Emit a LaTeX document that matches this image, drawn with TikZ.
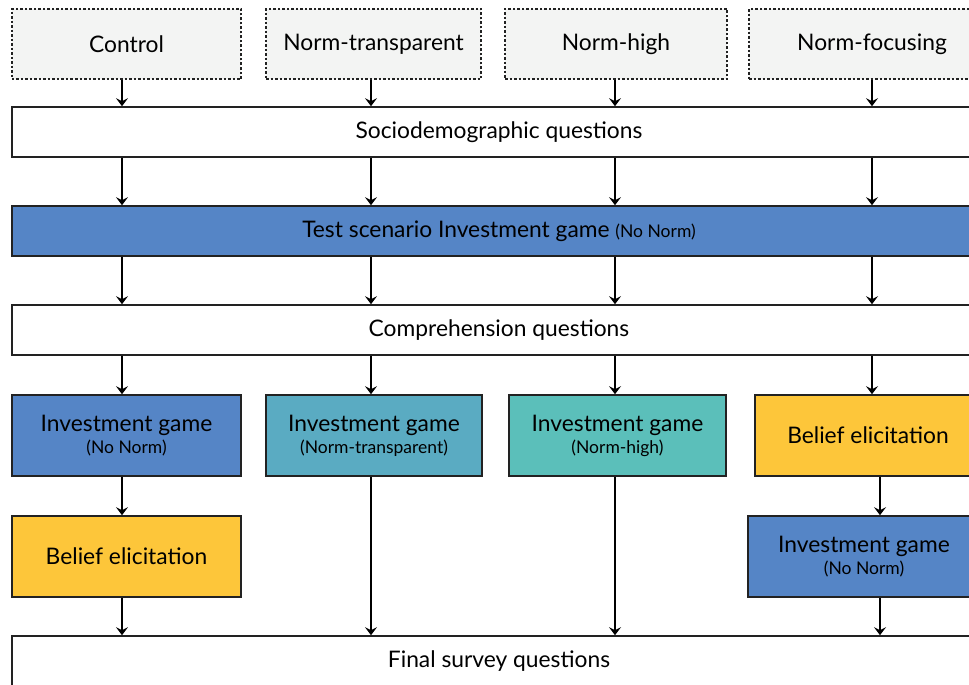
\documentclass[tikz,border=0pt]{standalone}
\usepackage{fontspec}
\setmainfont{Lato}
\usetikzlibrary{arrows.meta}
\definecolor{igblue}{HTML}{5585C6}
\definecolor{igtrans}{HTML}{5AABC2}
\definecolor{ighigh}{HTML}{5BBFBA}
\definecolor{beliefy}{HTML}{FDC63A}
\definecolor{topgray}{HTML}{F3F4F3}
\definecolor{edge}{HTML}{222222}
\newcommand{\bigt}{\fontsize{22.8bp}{26bp}\selectfont}
\newcommand{\smallt}{\fontsize{17.5bp}{19bp}\selectfont}
\tikzset{
  box/.style={draw=edge, line width=1.6bp, inner sep=0pt, align=center, font=\bigt},
  topbox/.style={box, fill=topgray, dash pattern=on 2.5bp off 2bp, line width=1.3bp, minimum height=70bp},
  widebox/.style={box, fill=white, minimum width=974bp, minimum height=50bp},
  cellbox/.style={box, minimum height=81bp},
  arr/.style={draw=black, line width=1.4bp, -{Stealth[length=8bp,width=12bp,inset=3bp]}}
}
\begin{document}
\begin{tikzpicture}[x=1bp,y=-1bp]
\path[use as bounding box] (0,0) rectangle (969,685);
\clip (0,0) rectangle (969,685);
\fill[white] (0,0) rectangle (969,685);
% column coordinates
\coordinate (c1) at (122,0);
\coordinate (c2) at (371,0);
\coordinate (c3) at (615,0);
\coordinate (c4) at (872,0);
\coordinate (c4b) at (880,0);
% top row
\node[topbox, minimum width=229bp] (ctrl) at (126.5,44) {Control};
\node[topbox, minimum width=215bp] (ntr) at (373.5,44) {Norm-transparent};
\node[topbox, minimum width=222bp] (nhi) at (616,44) {Norm-high};
\node[topbox, minimum width=246bp] (nfo) at (872,44) {Norm-focusing};
% wide boxes
\node[widebox] (socio) at (499,132) {Sociodemographic questions};
\node[widebox, fill=igblue] (test) at (499,231) {Test scenario Investment game \smallt(No Norm)};
\node[widebox] (comp) at (499,330) {Comprehension questions};
\node[widebox] (final) at (499,661) {Final survey questions};
% row 4
\node[cellbox, fill=igblue, minimum width=229bp] (ig1) at (126.5,435.5) {Investment game\\[-4bp]{\smallt(No Norm)}};
\node[cellbox, fill=igtrans, minimum width=216bp] (ig2) at (374,435.5) {Investment game\\[-4bp]{\smallt(Norm-transparent)}};
\node[cellbox, fill=ighigh, minimum width=217bp] (ig3) at (617.5,435.5) {Investment game\\[-4bp]{\smallt(Norm-high)}};
\node[cellbox, fill=beliefy, minimum width=226bp] (be4) at (868,435.5) {Belief elicitation};
% row 5
\node[cellbox, fill=beliefy, minimum width=229bp] (be1) at (126.5,556.5) {Belief elicitation};
\node[cellbox, fill=igblue, minimum width=232bp] (ig4) at (864,556.5) {Investment game\\[-4bp]{\smallt(No Norm)}};
% arrows top -> socio
\draw[arr] (ctrl.south -| c1) -- (socio.north -| c1);
\draw[arr] (ntr.south -| c2) -- (socio.north -| c2);
\draw[arr] (nhi.south -| c3) -- (socio.north -| c3);
\draw[arr] (nfo.south -| c4) -- (socio.north -| c4);
% socio -> test -> comp
\foreach \c in {c1,c2,c3,c4}{
  \draw[arr] (socio.south -| \c) -- (test.north -| \c);
  \draw[arr] (test.south -| \c) -- (comp.north -| \c);
}
% comp -> row 4
\draw[arr] (comp.south -| c1) -- (ig1.north -| c1);
\draw[arr] (comp.south -| c2) -- (ig2.north -| c2);
\draw[arr] (comp.south -| c3) -- (ig3.north -| c3);
\draw[arr] (comp.south -| c4) -- (be4.north -| c4);
% row 4 -> row 5 / final
\draw[arr] (ig1.south -| c1) -- (be1.north -| c1);
\draw[arr] (be4.south -| c4b) -- (ig4.north -| c4b);
\draw[arr] (be1.south -| c1) -- (final.north -| c1);
\draw[arr] (ig2.south -| c2) -- (final.north -| c2);
\draw[arr] (ig3.south -| c3) -- (final.north -| c3);
\draw[arr] (ig4.south -| c4b) -- (final.north -| c4b);
\end{tikzpicture}
\end{document}
